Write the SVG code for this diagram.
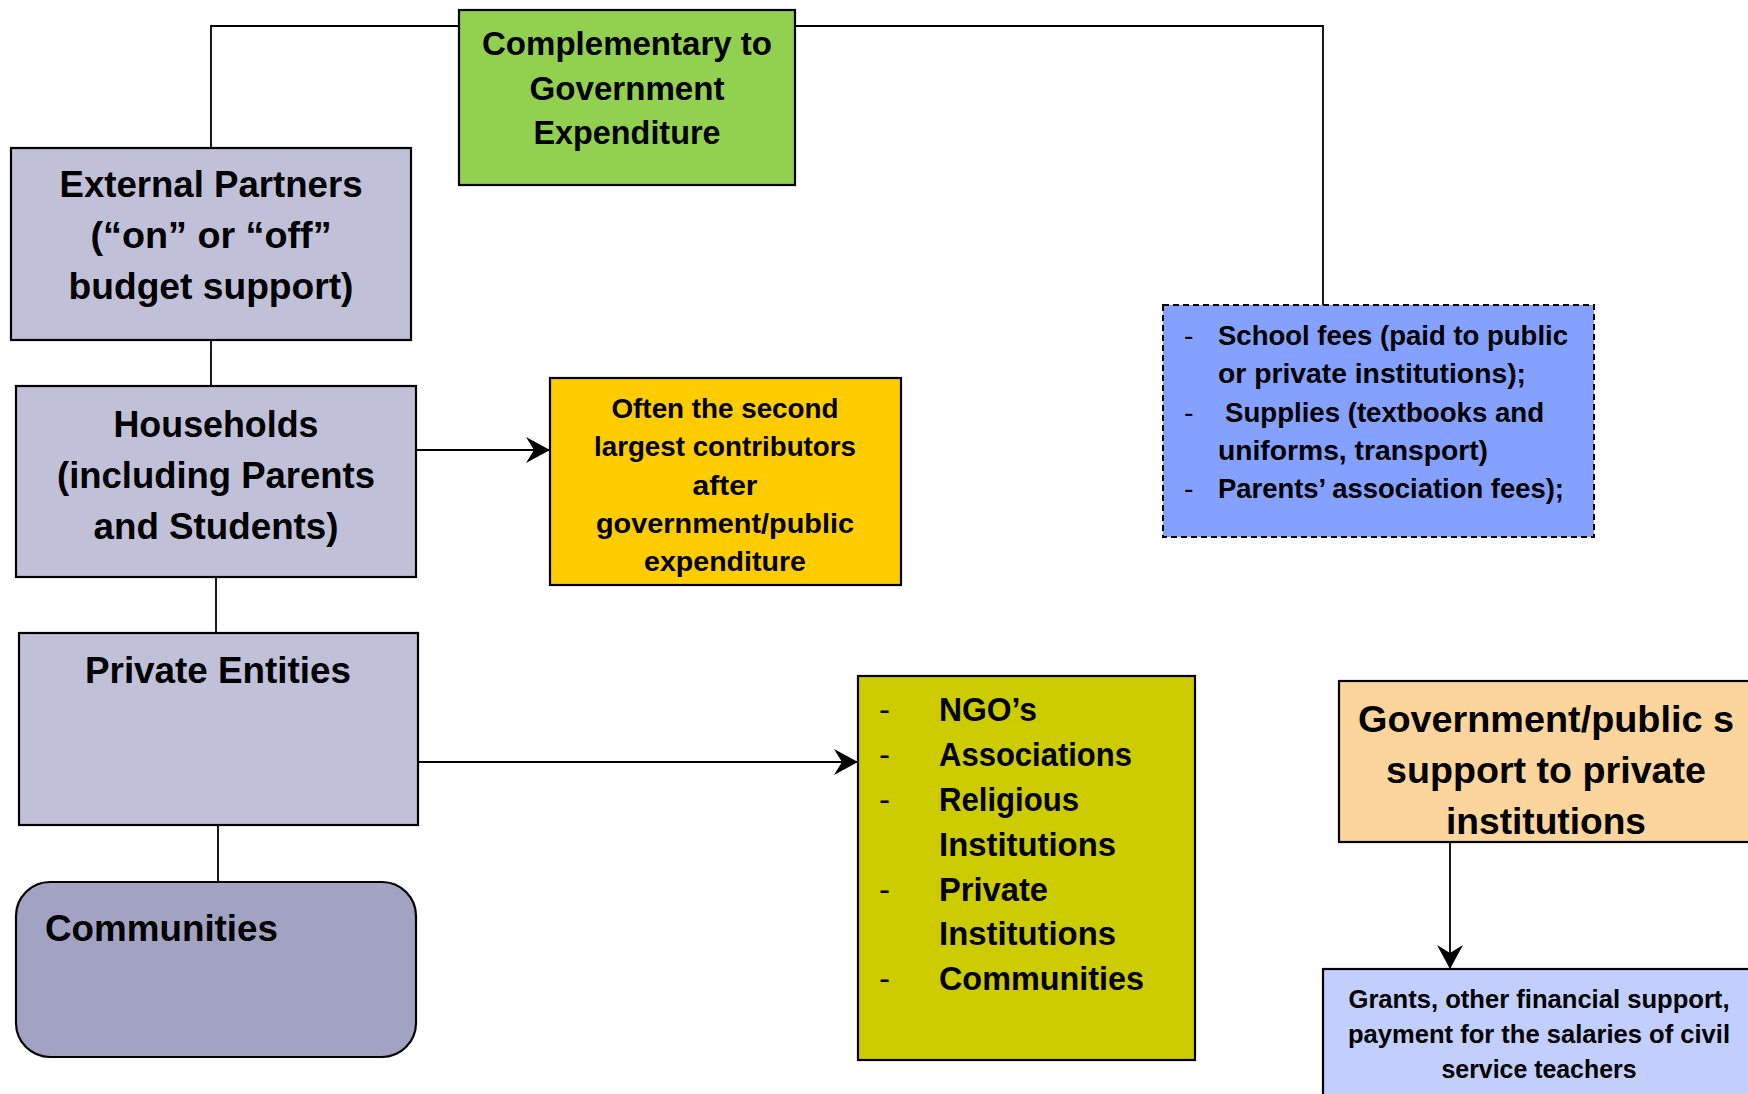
<svg xmlns="http://www.w3.org/2000/svg" width="1748" height="1094" viewBox="0 0 1748 1094">
<style>
text{font-family:"Liberation Sans",Arial,sans-serif;font-weight:bold;fill:#000}
.box{stroke:#000;stroke-width:2.2}
.gray{fill:#C0C1D9}
.conn{fill:none;stroke:#000;stroke-width:1.8}
.c{text-anchor:middle}
.d{font-weight:normal}
.t42{font-size:37px}
.t37{font-size:33px}
.t32{font-size:28.5px}
.t29{font-size:26px}
</style>
<defs>
<marker id="arr" viewBox="0 0 24 26" refX="23" refY="13" markerWidth="24" markerHeight="26" markerUnits="userSpaceOnUse" orient="auto">
<path d="M0,0 L24,13 L0,26 L8,13 z" fill="#000"/>
</marker>
</defs>
<g id="connectors">
<path class="conn" d="M211,148 V26 H1323 V305"/>
<path class="conn" d="M211,340 V386"/>
<path class="conn" d="M216,577 V633"/>
<path class="conn" d="M218,825 V882"/>
<path class="conn" d="M416,450 H549" marker-end="url(#arr)"/>
<path class="conn" d="M418,762 H857" marker-end="url(#arr)"/>
<path class="conn" d="M1450,842 V968" marker-end="url(#arr)"/>
</g>
<g id="complementary">
<rect class="box" x="459" y="10" width="336" height="175" fill="#92D050"/>
<text class="c t37" x="627" y="55" textLength="290" lengthAdjust="spacingAndGlyphs">Complementary to</text>
<text class="c t37" x="627" y="100" textLength="195" lengthAdjust="spacingAndGlyphs">Government</text>
<text class="c t37" x="627" y="144" textLength="187" lengthAdjust="spacingAndGlyphs">Expenditure</text>
</g>
<g id="external-partners">
<rect class="box gray" x="11" y="148" width="400" height="192"/>
<text class="c t42" x="211" y="197" textLength="303" lengthAdjust="spacingAndGlyphs">External Partners</text>
<text class="c t42" x="211" y="248" textLength="241" lengthAdjust="spacingAndGlyphs">(“on” or “off”</text>
<text class="c t42" x="211" y="299" textLength="285" lengthAdjust="spacingAndGlyphs">budget support)</text>
</g>
<g id="households">
<rect class="box gray" x="16" y="386" width="400" height="191"/>
<text class="c t42" x="216" y="437" textLength="205" lengthAdjust="spacingAndGlyphs">Households</text>
<text class="c t42" x="216" y="488" textLength="318" lengthAdjust="spacingAndGlyphs">(including Parents</text>
<text class="c t42" x="216" y="539" textLength="245" lengthAdjust="spacingAndGlyphs">and Students)</text>
</g>
<g id="second-largest">
<rect class="box" x="550" y="378" width="351" height="207" fill="#FFCC00"/>
<text class="c t32" x="725" y="418" textLength="227" lengthAdjust="spacingAndGlyphs">Often the second</text>
<text class="c t32" x="725" y="456" textLength="262" lengthAdjust="spacingAndGlyphs">largest contributors</text>
<text class="c t32" x="725" y="495" textLength="65" lengthAdjust="spacingAndGlyphs">after</text>
<text class="c t32" x="725" y="533" textLength="258" lengthAdjust="spacingAndGlyphs">government/public</text>
<text class="c t32" x="725" y="571" textLength="162" lengthAdjust="spacingAndGlyphs">expenditure</text>
</g>
<g id="household-costs">
<rect x="1163" y="305" width="431" height="232" fill="#84A1FF" stroke="#000" stroke-width="2" stroke-dasharray="6,4"/>
<text class="t32 d" x="1184" y="345">-</text>
<text class="t32" x="1218" y="345" textLength="350" lengthAdjust="spacingAndGlyphs">School fees (paid to public</text>
<text class="t32" x="1218" y="383" textLength="308" lengthAdjust="spacingAndGlyphs">or private institutions);</text>
<text class="t32 d" x="1184" y="422">-</text>
<text class="t32" x="1225" y="422" textLength="319" lengthAdjust="spacingAndGlyphs">Supplies (textbooks and</text>
<text class="t32" x="1218" y="460" textLength="270" lengthAdjust="spacingAndGlyphs">uniforms, transport)</text>
<text class="t32 d" x="1184" y="498">-</text>
<text class="t32" x="1218" y="498" textLength="346" lengthAdjust="spacingAndGlyphs">Parents’ association fees);</text>
</g>
<g id="private-entities">
<rect class="box gray" x="19" y="633" width="399" height="192"/>
<text class="c t42" x="218" y="683" textLength="266" lengthAdjust="spacingAndGlyphs">Private Entities</text>
</g>
<g id="communities">
<rect class="box" x="16" y="882" width="400" height="175" rx="34" ry="34" fill="#A2A3C2"/>
<text class="t42" x="45" y="941" textLength="233" lengthAdjust="spacingAndGlyphs">Communities</text>
</g>
<g id="private-list">
<rect class="box" x="858" y="676" width="337" height="384" fill="#CCCC00"/>
<text class="t37 d" x="879" y="721">-</text>
<text class="t37" x="939" y="721" textLength="98" lengthAdjust="spacingAndGlyphs">NGO’s</text>
<text class="t37 d" x="879" y="766">-</text>
<text class="t37" x="939" y="766" textLength="193" lengthAdjust="spacingAndGlyphs">Associations</text>
<text class="t37 d" x="879" y="811">-</text>
<text class="t37" x="939" y="811" textLength="140" lengthAdjust="spacingAndGlyphs">Religious</text>
<text class="t37" x="939" y="856" textLength="177" lengthAdjust="spacingAndGlyphs">Institutions</text>
<text class="t37 d" x="879" y="901">-</text>
<text class="t37" x="939" y="901" textLength="109" lengthAdjust="spacingAndGlyphs">Private</text>
<text class="t37" x="939" y="945" textLength="177" lengthAdjust="spacingAndGlyphs">Institutions</text>
<text class="t37 d" x="879" y="990">-</text>
<text class="t37" x="939" y="990" textLength="205" lengthAdjust="spacingAndGlyphs">Communities</text>
</g>
<g id="government-support">
<rect class="box" x="1339" y="681" width="430" height="161" fill="#FCD59C"/>
<text class="c t42" x="1546" y="732" textLength="376" lengthAdjust="spacingAndGlyphs">Government/public s</text>
<text class="c t42" x="1546" y="783" textLength="320" lengthAdjust="spacingAndGlyphs">support to private</text>
<text class="c t42" x="1546" y="834" textLength="200" lengthAdjust="spacingAndGlyphs">institutions</text>
</g>
<g id="grants">
<rect class="box" x="1323" y="969" width="440" height="140" fill="#C2CEFB"/>
<text class="c t29" x="1539" y="1008" textLength="381" lengthAdjust="spacingAndGlyphs">Grants, other financial support,</text>
<text class="c t29" x="1539" y="1043" textLength="382" lengthAdjust="spacingAndGlyphs">payment for the salaries of civil</text>
<text class="c t29" x="1539" y="1078" textLength="195" lengthAdjust="spacingAndGlyphs">service teachers</text>
</g>
</svg>
